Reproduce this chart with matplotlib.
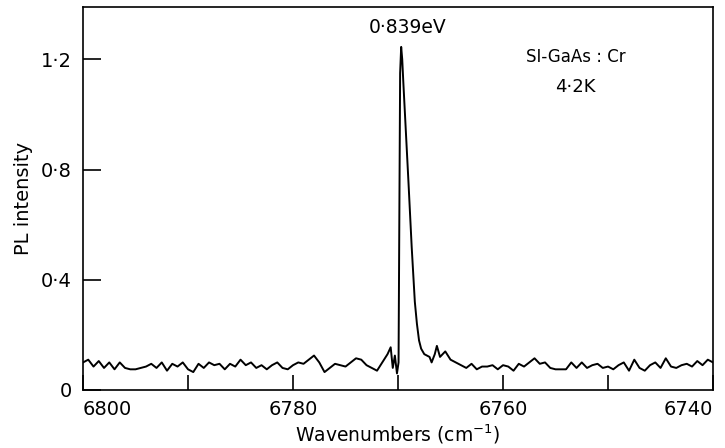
import numpy as np
import matplotlib
matplotlib.use("Agg")
from matplotlib import pyplot as plt

# spectrum (wavenumber in cm^-1, PL intensity)
wavenumber = [
    6800.0, 6799.5, 6799.0, 6798.5, 6798.0, 6797.5, 6797.0, 6796.5, 6796.0, 6795.5,
    6795.0, 6794.5, 6794.0, 6793.5, 6793.0, 6792.5, 6792.0, 6791.5, 6791.0, 6790.5,
    6790.0, 6789.5, 6789.0, 6788.5, 6788.0, 6787.5, 6787.0, 6786.5, 6786.0, 6785.5,
    6785.0, 6784.5, 6784.0, 6783.5, 6783.0, 6782.5, 6782.0, 6781.5, 6781.0, 6780.5,
    6780.0, 6779.5, 6779.0, 6778.5, 6778.0, 6777.5, 6777.0, 6776.5, 6776.0, 6775.5,
    6775.0, 6774.5, 6774.0, 6773.5, 6773.0, 6772.5, 6772.0, 6771.5, 6771.0, 6770.7,
    6770.5, 6770.3, 6770.1, 6769.95, 6769.8, 6769.7, 6769.6, 6769.5, 6769.2, 6769.0,
    6768.7, 6768.4, 6768.2, 6768.0, 6767.8, 6767.5, 6767.0, 6766.8, 6766.5, 6766.3,
    6766.0, 6765.5, 6765.0, 6764.5, 6764.0, 6763.5, 6763.0, 6762.5, 6762.0, 6761.5,
    6761.0, 6760.5, 6760.0, 6759.5, 6759.0, 6758.5, 6758.0, 6757.5, 6757.0, 6756.5,
    6756.0, 6755.5, 6755.0, 6754.5, 6754.0, 6753.5, 6753.0, 6752.5, 6752.0, 6751.5,
    6751.0, 6750.5, 6750.0, 6749.5, 6749.0, 6748.5, 6748.0, 6747.5, 6747.0, 6746.5,
    6746.0, 6745.5, 6745.0, 6744.5, 6744.0, 6743.5, 6743.0, 6742.5, 6742.0, 6741.5,
    6741.0, 6740.5, 6740.0,
]
intensity = [
    0.100, 0.110, 0.085, 0.105, 0.080, 0.100, 0.075, 0.100, 0.080, 0.075,
    0.075, 0.080, 0.085, 0.095, 0.080, 0.100, 0.070, 0.095, 0.085, 0.100,
    0.075, 0.065, 0.095, 0.080, 0.100, 0.090, 0.095, 0.075, 0.095, 0.085,
    0.110, 0.090, 0.100, 0.080, 0.090, 0.075, 0.090, 0.100, 0.080, 0.075,
    0.090, 0.100, 0.095, 0.110, 0.125, 0.100, 0.065, 0.080, 0.095, 0.090,
    0.085, 0.100, 0.115, 0.110, 0.090, 0.080, 0.070, 0.100, 0.130, 0.155,
    0.080, 0.125, 0.060, 0.100, 1.150, 1.245, 1.200, 1.120, 0.900, 0.750,
    0.520, 0.320, 0.240, 0.180, 0.150, 0.130, 0.120, 0.100, 0.130, 0.160,
    0.120, 0.140, 0.110, 0.100, 0.090, 0.080, 0.095, 0.075, 0.085, 0.085,
    0.090, 0.075, 0.090, 0.085, 0.070, 0.095, 0.085, 0.100, 0.115, 0.095,
    0.100, 0.080, 0.075, 0.075, 0.075, 0.100, 0.080, 0.100, 0.080, 0.090,
    0.095, 0.080, 0.085, 0.075, 0.090, 0.100, 0.070, 0.110, 0.080, 0.070,
    0.090, 0.100, 0.080, 0.115, 0.085, 0.080, 0.090, 0.095, 0.085, 0.105,
    0.090, 0.110, 0.100,
]

x_ticks = [6800, 6790, 6780, 6770, 6760, 6750, 6740]
x_labels = ["6800", "", "6780", "", "6760", "", "6740"]
y_ticks = [0, 0.4, 0.8, 1.2]
y_labels = ["0", "0\u00b74", "0\u00b78", "1\u00b72"]

plt.rcParams['font.family'] = ['DejaVu Sans']

fig = plt.figure(figsize=(7.25, 4.48), dpi=100)
ax = fig.add_axes([0.1145, 0.1295, 0.8690, 0.855])

ax.plot(wavenumber, intensity, color='black', lw=1.4)

ax.set_xlim(6800, 6740)
ax.set_ylim(0, 1.39)
ax.set_xticks(x_ticks)
ax.set_xticklabels(x_labels, fontsize=14)
ax.set_yticks(y_ticks)
ax.set_yticklabels(y_labels, fontsize=14)
ax.tick_params(axis='x', direction='in', length=11, width=1.2, pad=7)
ax.tick_params(axis='y', direction='in', length=13, width=1.2, pad=8)
xl = ax.get_xticklabels()
xl[0].set_ha('left')
xl[-1].set_ha('right')
for s in ax.spines.values():
    s.set_linewidth(1.2)

ax.set_xlabel("Wavenumbers (cm$^{-1}$)", fontsize=13.5, labelpad=3)
ax.set_ylabel("PL intensity", fontsize=14, labelpad=6)

ax.text(6769.1, 1.315, "0\u00b7839eV", ha='center', va='center', fontsize=13.5)
ax.text(6753.1, 1.21, "SI-GaAs : Cr", ha='center', va='center', fontsize=12)
ax.text(6753.1, 1.10, "4\u00b72K", ha='center', va='center', fontsize=13)

fig.savefig("out.png", dpi=100)
